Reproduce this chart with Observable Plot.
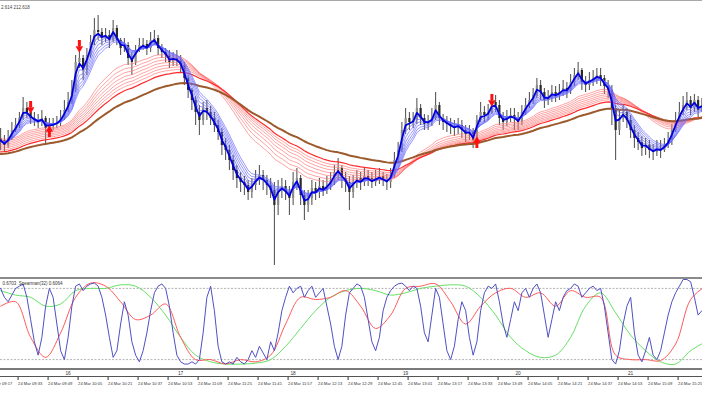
<!DOCTYPE html>
<html><head><meta charset="utf-8">
<script src="https://cdn.jsdelivr.net/npm/d3@7"></script>
<script src="https://cdn.jsdelivr.net/npm/@observablehq/plot@0.6"></script>
<style>
body{margin:0;background:#fff;}
#chart{position:relative;width:702px;height:395px;overflow:hidden;background:#fff;}
#chart svg{position:absolute;left:0;}
.sep{position:absolute;left:0;width:702px;}
</style></head><body><div id="chart"></div>
<script>
// ---- data ----
const barMinutes = 2;
const firstBar = "09:24";
const firstOpen = 212.585;
const close = [
212.583,212.578,212.585,212.593,212.598,212.605,212.615,212.611,212.605,212.603,
212.601,212.605,212.595,212.598,212.599,212.601,212.605,212.613,212.621,212.633,
212.661,212.665,212.653,212.668,212.681,212.693,212.691,212.685,212.688,212.683,
212.695,212.683,212.675,212.678,212.665,212.661,212.673,212.678,212.679,212.675,
212.683,212.685,212.675,212.671,212.668,212.661,212.665,212.663,212.658,212.645,
212.633,212.623,212.611,212.603,212.615,212.611,212.605,212.598,212.591,212.578,
212.573,212.563,212.553,212.545,212.541,212.538,212.531,212.538,212.545,212.548,
212.543,212.538,212.533,212.518,212.535,212.537,212.531,212.525,212.541,212.545,
212.528,212.518,212.525,212.535,212.531,212.537,212.533,212.538,212.543,212.551,
212.555,212.545,212.541,212.531,212.541,212.545,212.541,212.547,212.545,212.541,
212.545,212.547,212.543,212.541,212.548,212.563,212.573,212.593,212.605,212.601,
212.603,212.615,212.605,212.599,212.601,212.605,212.618,212.605,212.601,212.599,
212.597,212.595,212.598,212.593,212.589,212.591,212.583,212.603,212.611,212.608,
212.611,212.621,212.618,212.605,212.601,212.605,212.608,212.605,212.601,212.611,
212.618,212.623,212.628,212.638,212.631,212.623,212.625,212.631,212.628,212.631,
212.635,212.633,212.641,212.648,212.653,212.641,212.638,212.643,212.645,212.648,
212.645,212.637,212.633,212.615,212.593,212.605,212.611,212.603,212.593,212.585,
212.581,212.575,212.578,212.573,212.571,212.575,212.573,212.578,212.583,212.593,
212.603,212.611,212.618,212.623,212.615,212.623,212.613,212.618];
const high = [
212.595,212.588,212.593,212.601,212.605,212.611,212.626,212.621,212.617,212.611,
212.609,212.613,212.607,212.605,212.605,212.607,212.613,212.623,212.631,212.643,
212.668,212.678,212.668,212.675,212.688,212.705,212.708,212.695,212.695,212.693,
212.703,212.698,212.685,212.685,212.681,212.671,212.678,212.685,212.685,212.683,
212.691,212.693,212.688,212.679,212.675,212.673,212.671,212.673,212.668,212.661,
212.648,212.635,212.627,212.618,212.621,212.623,212.617,212.611,212.603,212.595,
212.585,212.578,212.568,212.558,212.551,212.547,212.543,212.545,212.553,212.558,
212.553,212.548,212.545,212.541,212.543,212.545,212.543,212.537,212.551,212.555,
212.548,212.533,212.533,212.543,212.541,212.545,212.543,212.547,212.551,212.558,
212.565,212.558,212.551,212.547,212.548,212.553,212.551,212.555,212.553,212.551,
212.553,212.555,212.551,212.549,212.555,212.571,212.581,212.601,212.615,212.611,
212.611,212.625,212.619,212.609,212.608,212.615,212.631,212.621,212.609,212.607,
212.605,212.603,212.605,212.603,212.598,212.598,212.595,212.608,212.621,212.617,
212.619,212.628,212.628,212.623,212.611,212.613,212.615,212.615,212.611,212.618,
212.625,212.631,212.635,212.645,212.643,212.635,212.633,212.638,212.637,212.639,
212.643,212.641,212.649,212.655,212.661,212.655,212.647,212.651,212.653,212.655,
212.655,212.648,212.643,212.638,212.618,212.613,212.619,212.615,212.608,212.598,
212.591,212.587,212.585,212.583,212.579,212.583,212.583,212.585,212.591,212.599,
212.611,212.621,212.627,212.631,212.627,212.629,212.627,212.625];
const low = [
212.573,212.571,212.575,212.583,212.591,212.595,212.603,212.605,212.599,212.597,
212.595,212.597,212.578,212.589,212.593,212.595,212.597,212.603,212.611,212.619,
212.631,212.655,212.643,212.648,212.665,212.678,212.683,212.678,212.681,212.675,
212.681,212.678,212.668,212.671,212.658,212.648,212.658,212.671,212.673,212.668,
212.671,212.678,212.668,212.665,212.661,212.655,212.657,212.657,212.651,212.638,
212.625,212.613,212.598,212.588,212.598,212.603,212.598,212.591,212.583,212.568,
212.563,212.553,212.543,212.535,212.531,212.528,212.523,212.525,212.533,212.538,
212.533,212.528,212.525,212.458,212.508,212.525,212.523,212.508,212.518,212.533,
212.518,212.503,212.511,212.518,212.523,212.525,212.527,212.529,212.533,212.538,
212.543,212.535,212.531,212.513,212.525,212.535,212.533,212.537,212.537,212.535,
212.537,212.539,212.537,212.533,212.535,212.545,212.561,212.571,212.589,212.593,
212.595,212.599,212.598,212.593,212.593,212.597,212.603,212.598,212.593,212.591,
212.589,212.587,212.589,212.585,212.581,212.583,212.575,212.581,212.601,212.601,
212.603,212.609,212.611,212.598,212.593,212.597,212.601,212.593,212.593,212.598,
212.608,212.615,212.619,212.625,212.623,212.615,212.618,212.621,212.621,212.623,
212.627,212.625,212.629,212.637,212.643,212.633,212.631,212.633,212.637,212.639,
212.637,212.629,212.625,212.598,212.563,212.588,212.601,212.595,212.585,212.575,
212.573,212.567,212.568,212.565,212.563,212.567,212.565,212.571,212.575,212.578,
212.591,212.601,212.608,212.613,212.608,212.611,212.605,212.611];

// moving-average ribbons (periods in bars) and their starting values
const shortPeriods = [2, 3, 4, 5, 6, 7, 8];
const longPeriods = [22, 25, 28, 31, 34, 37, 40, 44];
const longSeeds = [212.585, 212.583, 212.581, 212.579, 212.577, 212.575, 212.573, 212.571];
const trendPeriod = 60;
const trendSeed = 212.569;

// signal arrows (bar index, arrow tail price)
const downArrowBars = [8, 21, 131];
const downArrowPrice = [212.622, 212.683, 212.629];
const upArrowBars = [13, 127];
const upArrowPrice = [212.586, 212.575];

// Spearman oscillators
const spearmanFast = [
0.8,0.6,0.5,0.65,0.8,0.85,0.9,0.6,0.1,-0.4,
-0.7,-0.3,0.4,0.8,0.6,0,-0.6,-0.8,-0.3,0.4,
0.85,0.9,0.75,0.85,0.9,0.92,0.85,0.6,0.2,-0.3,
-0.75,-0.6,0,0.5,0.2,-0.4,-0.7,-0.85,-0.6,-0.2,
0.3,0.7,0.85,0.9,0.8,0.4,-0.2,-0.7,-0.85,-0.9,
-0.9,-0.85,-0.9,-0.8,-0.2,0.6,0.85,0.3,-0.5,-0.85,
-0.9,-0.85,-0.9,-0.75,-0.85,-0.9,-0.8,-0.6,-0.75,-0.5,
-0.65,-0.8,-0.4,-0.6,-0.2,0.3,0.6,0.85,0.7,0.8,
0.85,0.6,0.75,0.85,0.6,0.7,0.8,0.4,0,-0.5,
-0.8,-0.5,0.2,0.7,0.8,0.9,0.85,0.6,0.1,-0.4,
-0.6,-0.3,0.3,0.6,0.75,0.85,0.9,0.92,0.85,0.75,
0.85,0.8,0.4,-0.2,-0.4,0.2,0.8,0.6,0,-0.6,
-0.8,-0.5,0.1,0.5,0.3,-0.3,-0.7,-0.4,0.3,0.7,
0.85,0.8,0.9,0.5,0,-0.3,0.1,0.5,0.3,0.7,
0.8,0.6,0.8,0.9,0.7,0.2,-0.3,0.1,0.5,0.3,
0.6,0.75,0.8,0.9,0.85,0.6,0.7,0.8,0.85,0.75,
0.8,0.4,-0.2,-0.8,-0.9,-0.6,0,0.4,0.6,-0.2,
-0.7,-0.85,-0.6,-0.3,-0.7,-0.8,-0.6,-0.2,0.2,0.5,
0.7,0.85,1,1,0.95,0.6,0.2,0.3];
const slowStepBars = 4;
const spearmanMid = [0.4,0.5,-0.3,-0.75,-0.2,0.6,0.92,0.85,0.5,0.1,0.2,0.45,-0.3,-0.8,-0.8,-0.9,-0.8,-0.85,-0.7,0,
0.6,0.55,0.6,0.75,0.4,-0.1,0.2,0.8,0.85,0.9,0.5,0,0.4,0.7,0.8,0.6,0.7,0.4,0.75,0.6,
0.6,-0.7,-0.8,-0.8,-0.82,-0.45,0.55,0.85];
const spearmanSlow = [0.75,0.65,0.6,0.4,0.45,0.75,0.8,0.8,0.88,0.85,0.6,0.2,-0.3,-0.7,-0.85,-0.9,-0.9,-0.88,-0.8,-0.5,
-0.1,0.3,0.6,0.75,0.8,0.75,0.65,0.7,0.8,0.85,0.88,0.85,0.6,0.2,-0.3,-0.6,-0.75,-0.7,-0.3,0.4,
0.7,0.25,-0.25,-0.6,-0.85,-0.9,-0.6,-0.4];
const levels = [0.8, -0.8];

// texts
const headerText = "2.614 212.618";
const indicatorLabel = "0.6703  Spearman(32) 0.6064";
const dateLabel = "24 Mar";
const timeTickLabels = ["09:17","09:33","09:49","10:05","10:21","10:37","10:53","11:09","11:25","11:41","11:57","12:13",
"12:29","12:45","13:01","13:17","13:33","13:49","14:05","14:21","14:37","14:53","15:09","15:25"];
const hourLabels = ["16","17","18","19","20","21"];
const hourTimes = ["10:00","11:00","12:00","13:00","14:00","15:00"];
const viewStart = "09:23:56", viewEnd = "15:38:20";

// ---- build ----
const at = s => { const [h, m, sec] = s.split(":").map(Number); return new Date(Date.UTC(2025, 2, 24, h, m, sec || 0)); };
const t0 = at(firstBar).getTime();
const barTime = i => new Date(t0 + i * barMinutes * 60000);
const xDomain = [at(viewStart), at(viewEnd)];
const font = "'Liberation Sans', Arial, sans-serif";

const candles = close.map((c, i) => ({t: barTime(i), open: i ? close[i - 1] : firstOpen, close: c, high: high[i], low: low[i]}));
function ema(values, n, seed) { const a = 2 / (n + 1); let e = seed; return values.map(v => (e += a * (v - e))); }
const rows = (vals, n) => vals.map((v, i) => ({t: candles[i].t, v, n}));
const shortRows = shortPeriods.flatMap(n => rows(ema(close, n, close[0]), n));
const longRows = longPeriods.flatMap((n, j) => rows(ema(close, n, longSeeds[j]), n));
const fastN = d3.min(shortPeriods), slowN = d3.max(longPeriods);
const trendRows = rows(ema(close, trendPeriod, trendSeed), trendPeriod);
const downArrows = downArrowBars.map((b, j) => ({t: barTime(b), p: downArrowPrice[j]}));
const upArrows = upArrowBars.map((b, j) => ({t: barTime(b), p: upArrowPrice[j]}));
const arrowShaft = 0.006;

const main = Plot.plot({
  width: 702, height: 277, margin: 0,
  style: {fontFamily: font, background: "transparent"},
  x: {type: "utc", domain: xDomain, axis: null},
  y: {domain: [212.446, 212.723], axis: null},
  marks: [
    Plot.ruleX(candles, {x: "t", y1: "low", y2: "high", stroke: "#1a1a1a", strokeWidth: 0.8}),
    Plot.ruleX(candles, {filter: d => d.close >= d.open, x: "t", y1: "open", y2: "close", stroke: "#8c8c8c", strokeWidth: 2.2}),
    Plot.ruleX(candles, {filter: d => d.close < d.open, x: "t", y1: "open", y2: "close", stroke: "#2a2a2a", strokeWidth: 2.2}),
    Plot.line(longRows, {filter: d => d.n !== slowN, x: "t", y: "v", z: "n", stroke: "#ff7b7b", strokeWidth: 0.7}),
    Plot.line(longRows, {filter: d => d.n === slowN, x: "t", y: "v", stroke: "#ff2a2a", strokeWidth: 1.2}),
    Plot.line(trendRows, {x: "t", y: "v", stroke: "#9c5a2c", strokeWidth: 2}),
    Plot.line(shortRows, {filter: d => d.n !== fastN, x: "t", y: "v", z: "n", stroke: "#6a6aff", strokeWidth: 0.7}),
    Plot.line(shortRows, {filter: d => d.n === fastN, x: "t", y: "v", stroke: "#0000dd", strokeWidth: 1.8}),
    Plot.ruleX(downArrows, {x: "t", y1: "p", y2: d => d.p - arrowShaft, stroke: "#ff1010", strokeWidth: 3}),
    Plot.dot(downArrows, {x: "t", y: "p", dy: 8, symbol: "triangle", rotate: 180, r: 2.8, fill: "#ff1010", stroke: "none"}),
    Plot.ruleX(upArrows, {x: "t", y1: "p", y2: d => d.p + arrowShaft, stroke: "#ff1010", strokeWidth: 3}),
    Plot.dot(upArrows, {x: "t", y: "p", dy: -8, symbol: "triangle", r: 2.8, fill: "#ff1010", stroke: "none"}),
    Plot.text([headerText], {frameAnchor: "top-left", dx: 0.5, dy: 5, fontSize: 4.5, fill: "#444", lineAnchor: "top"})
  ]
});

const slowRowsOf = vals => vals.map((v, k) => ({t: barTime(k * slowStepBars), v}));
const ind = Plot.plot({
  width: 702, height: 89, margin: 0,
  style: {fontFamily: font, background: "transparent"},
  x: {type: "utc", domain: xDomain, axis: null},
  y: {domain: [-1, 1], axis: null},
  marks: [
    Plot.ruleY(levels, {stroke: "#a0a0a0", strokeDasharray: "2,1.5", strokeWidth: 0.8}),
    Plot.line(slowRowsOf(spearmanSlow), {x: "t", y: "v", stroke: "#66e066", strokeWidth: 1, curve: "catmull-rom"}),
    Plot.line(slowRowsOf(spearmanMid), {x: "t", y: "v", stroke: "#ff5a5a", strokeWidth: 1, curve: "catmull-rom"}),
    Plot.line(spearmanFast.map((v, i) => ({t: barTime(i), v})), {x: "t", y: "v", stroke: "#5050c4", strokeWidth: 1}),
    Plot.text([indicatorLabel], {frameAnchor: "top-left", dx: 2, dy: 2, fontSize: 4.5, fill: "#333", lineAnchor: "top"})
  ]
});

const tickDates = timeTickLabels.map(at);
const tickText = new Map(timeTickLabels.map((s, i) => [+tickDates[i], dateLabel + " " + s]));
const hourRows = hourTimes.map((s, i) => ({t: at(s), label: hourLabels[i]}));
const axis = Plot.plot({
  width: 702, height: 25, marginTop: 0, marginBottom: 18.5, marginLeft: 0, marginRight: 0,
  style: {fontFamily: font, background: "transparent"},
  x: {type: "utc", domain: xDomain},
  marks: [
    Plot.axisX(tickDates, {anchor: "bottom", tickSize: 3.5, tickPadding: 1.2, tickFormat: d => tickText.get(+d), textAnchor: "start", dx: 0.6, fontSize: 4.1, stroke: "#333", fill: "#333", label: null}),
    Plot.text(hourRows, {x: "t", text: "label", frameAnchor: "middle", fontSize: 4.8, fill: "#333"})
  ]
});

const chart = document.getElementById("chart");
main.style.top = "0px"; ind.style.top = "279px"; axis.style.top = "370px";
chart.append(main, ind, axis);
const line = (top, h, color) => { const d = document.createElement("div"); d.className = "sep"; d.style.top = top + "px"; d.style.height = h + "px"; d.style.background = color; chart.append(d); };
line(0, 1, "#a8a8a8");
line(277, 2, "#8a8a8a");
line(368, 2, "#7a7a7a");
line(376, 1, "#555");
</script></body></html>
